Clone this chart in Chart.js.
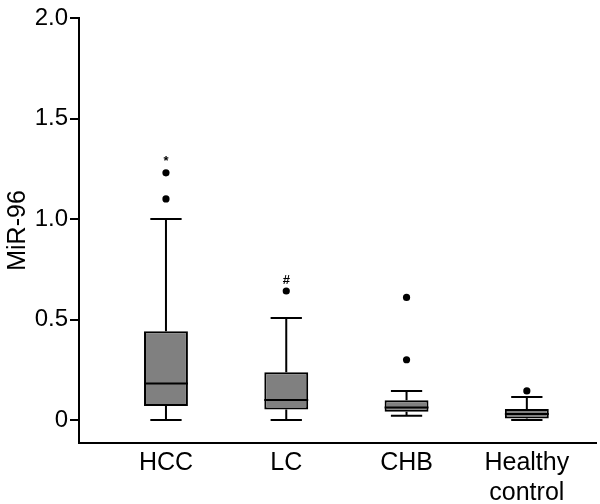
<!DOCTYPE html>
<html>
<head>
<meta charset="utf-8">
<script src="https://cdn.jsdelivr.net/npm/chart.js@4"></script>
<style>
  body { margin: 0; background: #fff; }
  #wrap { width: 600px; height: 504px; }
</style>
</head>
<body>
<div id="wrap"><canvas id="box-chart" width="600" height="504"></canvas></div>
<script>
// Data
var groups = [['HCC'], ['LC'], ['CHB'], ['Healthy', 'control']];
var lowWhisker = [0, 0, 0.021, 0];
var q1 = [0.07, 0.053, 0.041, 0.008];
var median = [0.182, 0.10, 0.063, 0.030];
var q3 = [0.442, 0.238, 0.099, 0.055];
var highWhisker = [1.0, 0.508, 0.145, 0.115];
var outliers = [[1.10, 1.23], [0.642], [0.30, 0.61], [0.145]];
var marks = ['*', '#', '', ''];
var yTicks = [0, 0.5, 1.0, 1.5, 2.0];

var FONT = "'Liberation Sans', Arial, sans-serif";

// build datasets
var boxData = [];
var outData = [];
for (var i = 0; i < groups.length; i++) {
  boxData.push({x: i + 1, y: [q1[i], q3[i]]});
  for (var j = 0; j < outliers[i].length; j++) {
    outData.push({x: i + 1, y: outliers[i][j]});
  }
}

/*******************************
* Draws whiskers, caps, medians and
* the significance marks using the scales
*******************************/
var boxExtras = {
  id: 'boxExtras',
  afterDatasetsDraw: function(chart) {
    var ctx = chart.ctx;
    var xs = chart.scales.x;
    var ys = chart.scales.y;
    var bars = chart.getDatasetMeta(0).data;
    ctx.save();
    ctx.strokeStyle = '#000';
    ctx.lineWidth = 2;
    for (var i = 0; i < groups.length; i++) {
      var cx = xs.getPixelForValue(i + 1);
      var capL = xs.getPixelForValue(i + 1 - 0.13);
      var capR = xs.getPixelForValue(i + 1 + 0.13);
      var half = bars[i].width / 2;
      ctx.beginPath();
      // upper whisker + cap
      ctx.moveTo(cx, ys.getPixelForValue(q3[i]));
      ctx.lineTo(cx, ys.getPixelForValue(highWhisker[i]));
      ctx.moveTo(capL, ys.getPixelForValue(highWhisker[i]));
      ctx.lineTo(capR, ys.getPixelForValue(highWhisker[i]));
      // lower whisker + cap
      ctx.moveTo(cx, ys.getPixelForValue(q1[i]));
      ctx.lineTo(cx, ys.getPixelForValue(lowWhisker[i]));
      ctx.moveTo(capL, ys.getPixelForValue(lowWhisker[i]));
      ctx.lineTo(capR, ys.getPixelForValue(lowWhisker[i]));
      // median
      ctx.moveTo(cx - half, ys.getPixelForValue(median[i]));
      ctx.lineTo(cx + half, ys.getPixelForValue(median[i]));
      ctx.stroke();

      if (marks[i]) {
        var top = Math.max.apply(null, outliers[i]);
        ctx.fillStyle = '#000';
        ctx.font = 'bold 13px ' + FONT;
        ctx.textAlign = 'center';
        ctx.textBaseline = 'middle';
        ctx.fillText(marks[i], cx, ys.getPixelForValue(top) - 11);
      }
    }
    ctx.restore();
  }
};

new Chart('box-chart', {
  type: 'bar',
  data: {
    datasets: [{
      data: boxData,
      backgroundColor: '#808080',
      borderColor: '#000',
      borderWidth: 2,
      borderSkipped: false,
      barPercentage: 0.365,
      categoryPercentage: 1
    }, {
      type: 'scatter',
      data: outData,
      pointRadius: 3.6,
      pointBackgroundColor: '#000',
      pointBorderWidth: 0
    }]
  },
  options: {
    responsive: false,
    animation: false,
    layout: {padding: {top: 18, right: 4, left: 0, bottom: 0}},
    plugins: {legend: {display: false}, tooltip: {enabled: false}},
    scales: {
      x: {
        type: 'linear',
        offset: false,
        min: 0.277,
        max: 4.575,
        afterBuildTicks: function(axis) {
          axis.ticks = groups.map(function(g, k) { return {value: k + 1}; });
        },
        afterFit: function(axis) { axis.height = 61; },
        ticks: {
          color: '#000',
          font: {family: FONT, size: 25},
          padding: -3,
          maxRotation: 0,
          callback: function(v) { return groups[v - 1]; }
        },
        grid: {display: false, offset: false},
        border: {display: true, color: '#000', width: 2}
      },
      y: {
        min: -0.114,
        max: 2.0,
        afterBuildTicks: function(axis) {
          axis.ticks = yTicks.map(function(v) { return {value: v}; });
        },
        afterFit: function(axis) { axis.width = 79; },
        ticks: {
          color: '#000',
          font: {family: FONT, size: 24},
          padding: 2,
          callback: function(v) { return v === 0 ? '0' : v.toFixed(1); }
        },
        grid: {drawOnChartArea: false, drawTicks: true, tickLength: 9, color: '#000', lineWidth: 2},
        border: {display: true, color: '#000', width: 2},
        title: {
          display: true,
          text: 'MiR-96',
          color: '#000',
          font: {family: FONT, size: 25},
          padding: {top: 3, bottom: 0}
        }
      }
    }
  },
  plugins: [boxExtras]
});
</script>
</body>
</html>
